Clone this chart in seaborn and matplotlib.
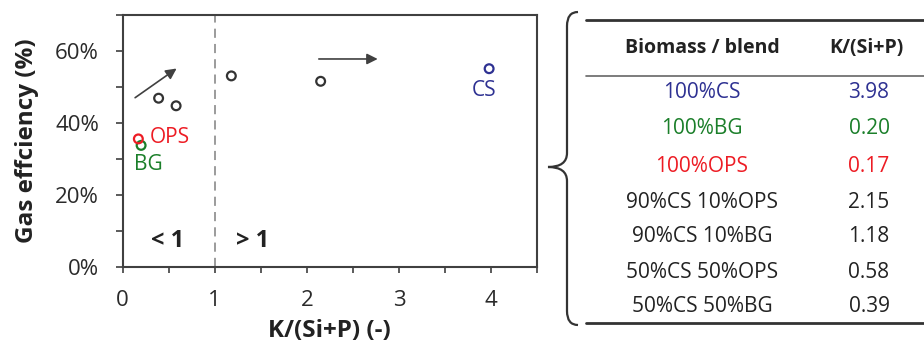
import numpy as np
import pandas as pd
import matplotlib
matplotlib.use("Agg")
import matplotlib.pyplot as plt
import seaborn as sns
from matplotlib.path import Path
from matplotlib.patches import PathPatch
from matplotlib.ticker import MultipleLocator, FuncFormatter

# ---- data ----
blends = ["100%CS", "100%BG", "100%OPS", "90%CS 10%OPS", "90%CS 10%BG", "50%CS 50%OPS", "50%CS 50%BG"]
k_ratio = [3.98, 0.20, 0.17, 2.15, 1.18, 0.58, 0.39]
k_labels = ["3.98", "0.20", "0.17", "2.15", "1.18", "0.58", "0.39"]
gas_eff = [55.0, 33.7, 35.5, 51.5, 53.0, 44.7, 46.8]
groups = ["CS", "BG", "OPS", "blend", "blend", "blend", "blend"]
group_colors = {"CS": "#2E3192", "BG": "#1B7F2A", "OPS": "#ED1C24", "blend": "#333333"}

sns.set_theme(style="ticks")
plt.rcParams["font.family"] = ["Open Sans", "DejaVu Sans"]

W, H = 924, 345
fig = plt.figure(figsize=(W / 100, H / 100), dpi=100)
L, R, T, B = 122.7, 537.0, 14.7, 266.7
ax = fig.add_axes([L / W, 1 - B / H, (R - L) / W, (B - T) / H])

df = pd.DataFrame({"k": k_ratio, "eff": gas_eff, "grp": groups})
sns.scatterplot(data=df, x="k", y="eff", ax=ax, s=40, marker="o", legend=False, zorder=3)
coll = ax.collections[0]
coll.set_facecolor("none")
coll.set_edgecolor([group_colors[g] for g in groups])
coll.set_linewidth(1.6)

ax.set_xlim(0, 4.5)
ax.set_ylim(0, 70)
ax.axvline(1, color="#808080", ls=(0, (6, 4)), lw=1.1, zorder=1)

ax.xaxis.set_major_locator(MultipleLocator(1))
ax.xaxis.set_minor_locator(MultipleLocator(0.5))
ax.yaxis.set_major_locator(MultipleLocator(20))
ax.yaxis.set_minor_locator(MultipleLocator(10))
ax.yaxis.set_major_formatter(FuncFormatter(lambda v, p: f"{v:.0f}%"))
ax.tick_params(which="both", direction="out", length=5, width=1.2, color="#404040",
               labelsize=16, labelcolor="#2a2a2a")
ax.tick_params(axis="x", which="both", length=4.5, pad=12)
ax.tick_params(axis="y", pad=12)
for s in ax.spines.values():
    s.set_color("#404040")
    s.set_linewidth(1.5)

ax.set_xlabel("K/(Si+P) (-)", fontsize=17.5, fontweight="bold", color="#222222", labelpad=6)
ax.set_ylabel("Gas effciency (%)", fontsize=17.5, fontweight="bold", color="#222222", labelpad=12)

# annotations
ax.annotate("", xy=(0.61, 55.5), xytext=(0.11, 46.5),
            arrowprops=dict(arrowstyle="-|>", color="#404040", lw=1.2, mutation_scale=16))
ax.annotate("", xy=(2.8, 57.7), xytext=(2.1, 57.7),
            arrowprops=dict(arrowstyle="-|>", color="#404040", lw=1.2, mutation_scale=16))
ax.text(0.49, 7, "< 1", fontsize=17, fontweight="bold", color="#222222", ha="center", va="center")
ax.text(1.41, 7, "> 1", fontsize=17, fontweight="bold", color="#222222", ha="center", va="center")
ax.text(0.29, 36.0, "OPS", fontsize=15, color=group_colors["OPS"], ha="left", va="center")
ax.text(0.12, 28.5, "BG", fontsize=15, color=group_colors["BG"], ha="left", va="center")
ax.text(3.93, 49.0, "CS", fontsize=15, color=group_colors["CS"], ha="center", va="center")

# ---- table on the right ----
def fx(x):
    return x / W

def fy(y):
    return 1 - y / H

fig.add_artist(plt.Line2D([fx(586), fx(924)], [fy(20), fy(20)], color="#333333", lw=2.0))
fig.add_artist(plt.Line2D([fx(586), fx(924)], [fy(76), fy(76)], color="#666666", lw=1.2))
fig.add_artist(plt.Line2D([fx(586), fx(924)], [fy(323), fy(323)], color="#333333", lw=2.0))
fig.text(fx(702), fy(48), "Biomass / blend", fontsize=14, fontweight="bold", color="#222222",
         ha="center", va="center")
fig.text(fx(866), fy(48), "K/(Si+P)", fontsize=14, fontweight="bold", color="#222222",
         ha="center", va="center")
row_y = [93, 128, 166, 202, 237, 273, 307]
for name, kl, g, yy in zip(blends, k_labels, groups, row_y):
    c = group_colors[g] if g != "blend" else "#222222"
    fig.text(fx(702), fy(yy), name, fontsize=15, color=c, ha="center", va="center")
    fig.text(fx(869), fy(yy), kl, fontsize=15, color=c, ha="center", va="center")

# brace
pts = [(578, 12), (567, 12), (567, 26), (567, 153), (567, 167), (548, 167),
       (567, 167), (567, 181), (567, 311), (567, 325), (578, 325)]
codes = [Path.MOVETO, Path.CURVE3, Path.CURVE3, Path.LINETO, Path.CURVE3, Path.CURVE3,
         Path.CURVE3, Path.CURVE3, Path.LINETO, Path.CURVE3, Path.CURVE3]
verts = [(fx(x), fy(y)) for x, y in pts]
fig.add_artist(PathPatch(Path(verts, codes), fill=False, ec="#333333", lw=1.6,
                         transform=fig.transFigure))

fig.savefig("out.png", dpi=100)
